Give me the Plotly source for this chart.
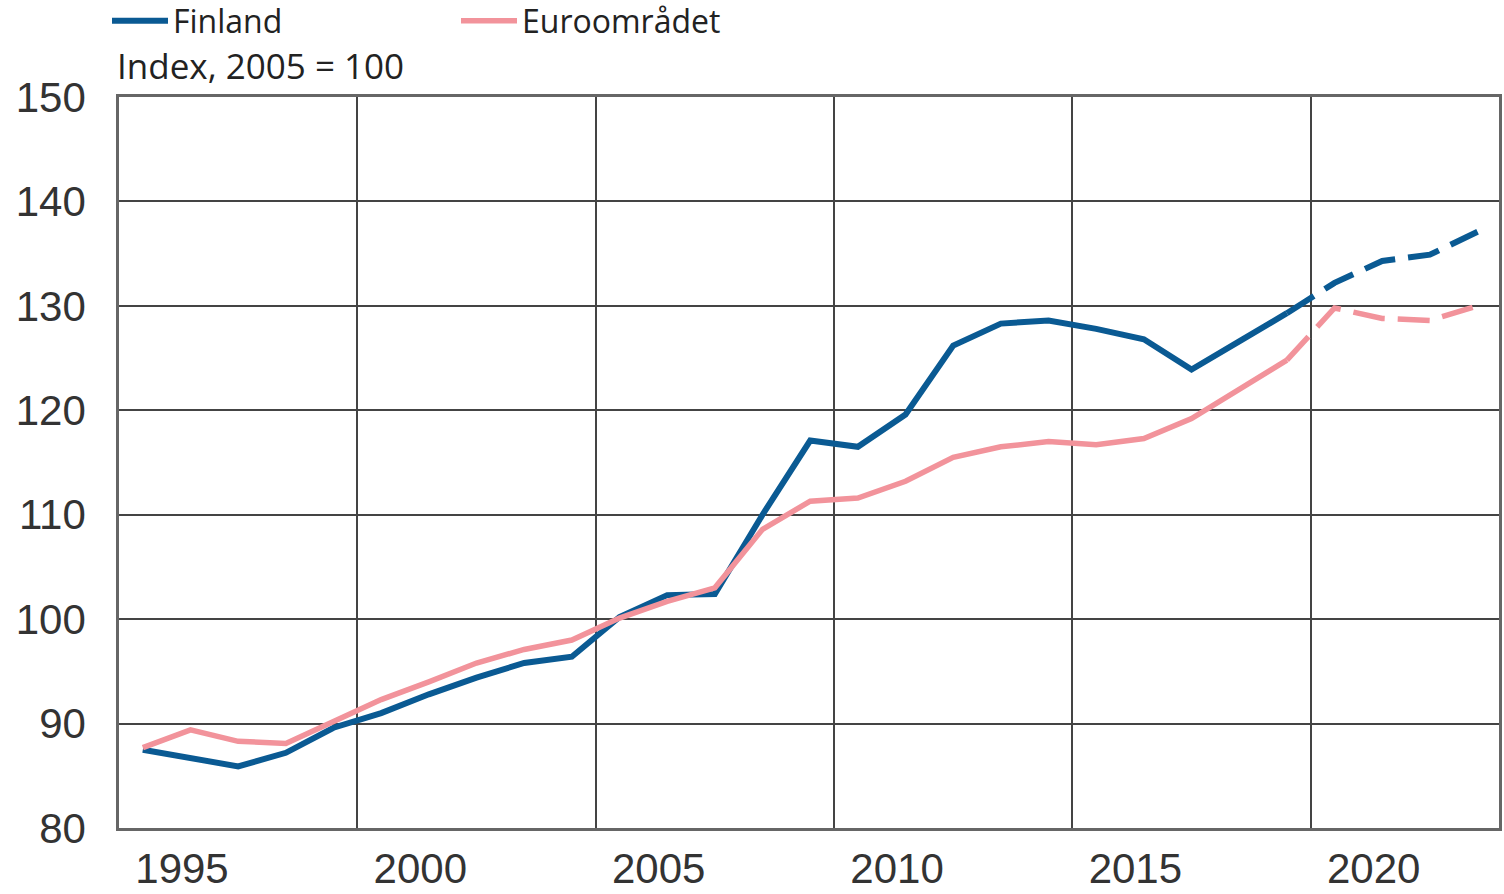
import plotly.graph_objects as go

years = list(range(1995, 2024))
finland = [87.5, 86.7, 85.9, 87.2, 89.6, 91.0, 92.8, 94.4, 95.8, 96.4,
           100.2, 102.3, 102.4, 110.0, 117.1, 116.5, 119.6, 126.2, 128.3, 128.6,
           127.8, 126.8, 123.9, 126.6, 129.3, 132.2, 134.3, 134.9, 137.1]
euro = [87.7, 89.4, 88.3, 88.1, 90.2, 92.3, 94.0, 95.8, 97.1, 98.0,
        100.1, 101.7, 103.0, 108.6, 111.3, 111.6, 113.2, 115.5, 116.5, 117.0,
        116.7, 117.3, 119.2, 122.0, 124.8, 129.8, 128.8, 128.6, 130.0]
last_actual = 2019
x_ticks = [1995, 2000, 2005, 2010, 2015, 2020]
y_ticks = [80, 90, 100, 110, 120, 130, 140, 150]
series_names = ["Finland", "Euroområdet"]
axis_title = "Index, 2005 = 100"

BLUE = "#0a5a93"
PINK = "#f2939b"

# annual values plotted at mid-year
xs = [y + 0.5 for y in years]
act = [i for i, y in enumerate(years) if y <= last_actual]
fc = [i for i, y in enumerate(years) if y >= last_actual]

fig = go.Figure()
for name, vals, color, w in [(series_names[0], finland, BLUE, 6),
                             (series_names[1], euro, PINK, 5.5)]:
    fig.add_trace(go.Scatter(
        x=[xs[i] for i in act], y=[vals[i] for i in act], mode="lines",
        name=name, legendgroup=name,
        line=dict(color=color, width=w), hoverinfo="x+y"))
    fig.add_trace(go.Scatter(
        x=[xs[i] for i in fc], y=[vals[i] for i in fc], mode="lines",
        name=name, legendgroup=name, showlegend=False,
        line=dict(color=color, width=w, dash="32px,13px")))

fig.update_layout(
    width=1504, height=894,
    margin=dict(l=119, r=2, t=97, b=64),
    paper_bgcolor="white", plot_bgcolor="white",
    showlegend=True,
    legend=dict(orientation="h", xref="container", yref="container",
                x=107 / 1504, y=1 - 21 / 894, xanchor="left", yanchor="middle",
                font=dict(family="Open Sans", size=32, color="#222"),
                itemwidth=56, entrywidth=278, bgcolor="rgba(0,0,0,0)"),
    annotations=[dict(text=axis_title, xref="paper", yref="paper", x=0, y=1,
                      xanchor="left", yanchor="bottom", yshift=6, xshift=-4,
                      showarrow=False,
                      font=dict(family="Open Sans", size=35, color="#222"))],
)
fig.update_xaxes(range=[1995, 2023.95], tickvals=x_ticks,
                 ticktext=[str(t) for t in x_ticks],
                 showgrid=True, gridcolor="#444", gridwidth=1.5,
                 showline=True, linecolor="#666", linewidth=2.5, mirror=True,
                 zeroline=False, ticks="", ticklabelshift=63, ticklabelstandoff=2,
                 tickfont=dict(family="Liberation Sans, Arial", size=42, color="#333"))
fig.update_yaxes(range=[80, 150], tickvals=y_ticks,
                 showgrid=True, gridcolor="#444", gridwidth=1.5,
                 showline=True, linecolor="#666", linewidth=2.5, mirror=True,
                 zeroline=False, ticks="", ticklabelstandoff=22,
                 tickfont=dict(family="Liberation Sans, Arial", size=42, color="#333"))

fig.write_html("out.html", config={"displayModeBar": False},
               post_script="document.body.style.margin='0';")
